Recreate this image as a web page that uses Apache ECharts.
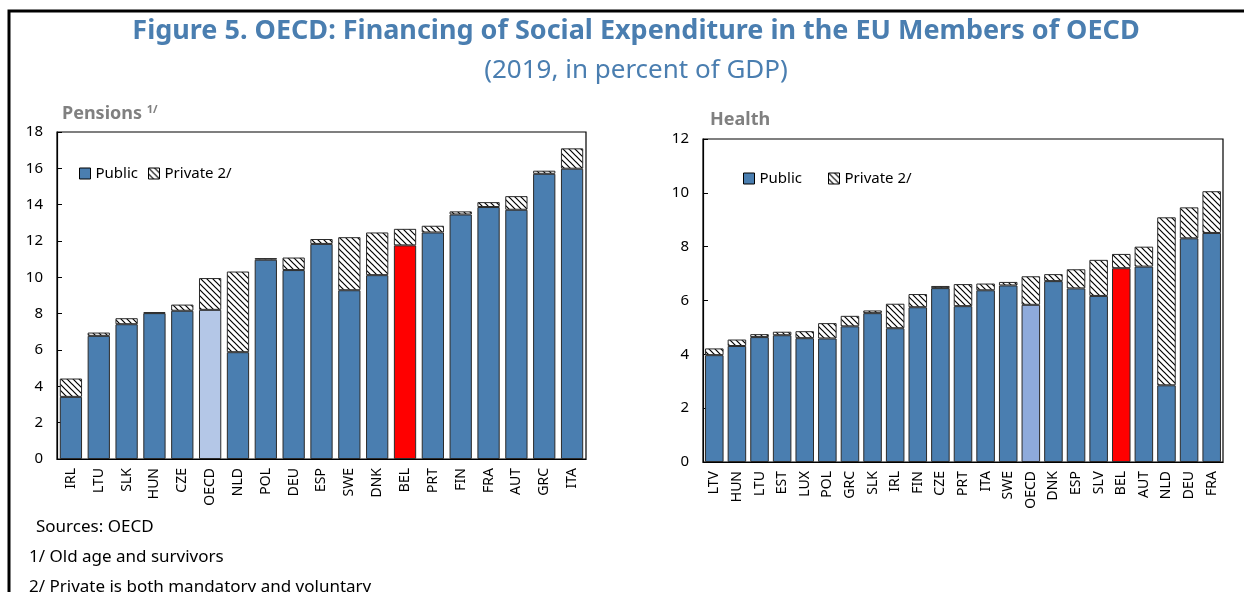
<!DOCTYPE html>
<html>
<head>
<meta charset="utf-8">
<script src="https://cdn.jsdelivr.net/npm/echarts@6/dist/echarts.min.js"></script>
<style>
  html, body { margin: 0; padding: 0; background: #fff; }
  #main { width: 1244px; height: 592px; }
</style>
</head>
<body>
<div id="main"></div>
<script>
// pensions panel
var penCountries = ['IRL','LTU','SLK','HUN','CZE','OECD','NLD','POL','DEU','ESP','SWE','DNK','BEL','PRT','FIN','FRA','AUT','GRC','ITA'];
var penPublic  = [3.42, 6.78, 7.42, 8.03, 8.16, 8.21, 5.88, 10.97, 10.40, 11.84, 9.29, 10.12, 11.76, 12.47, 13.46, 13.87, 13.72, 15.70, 15.98];
var penPrivate = [1.01, 0.18, 0.33, 0.05, 0.34, 1.75, 4.44, 0.09, 0.69, 0.27, 2.92, 2.35, 0.91, 0.37, 0.17, 0.27, 0.75, 0.17, 1.12];

// health panel
var hlthCountries = ['LTV','HUN','LTU','EST','LUX','POL','GRC','SLK','IRL','FIN','CZE','PRT','ITA','SWE','OECD','DNK','ESP','SLV','BEL','AUT','NLD','DEU','FRA'];
var hlthPublic  = [3.97, 4.31, 4.64, 4.71, 4.60, 4.59, 5.04, 5.53, 4.97, 5.75, 6.46, 5.79, 6.38, 6.56, 5.84, 6.72, 6.45, 6.17, 7.20, 7.26, 2.85, 8.31, 8.51];
var hlthPrivate = [0.25, 0.24, 0.11, 0.13, 0.26, 0.57, 0.39, 0.10, 0.91, 0.49, 0.08, 0.82, 0.25, 0.13, 1.06, 0.26, 0.71, 1.34, 0.53, 0.74, 6.24, 1.15, 1.55];

var penTicks = [0, 18, 2];
var hlthTicks = [0, 12, 2];

var blue = '#4a7eb0';
var edge = '#2b2b2b';

function hatch() {
    var c = document.createElement('canvas');
    c.width = 6; c.height = 6;
    var g = c.getContext('2d');
    g.fillStyle = '#fff';
    g.fillRect(0, 0, 6, 6);
    g.strokeStyle = '#000';
    g.lineWidth = 1.2;
    g.beginPath();
    g.moveTo(0, 0); g.lineTo(6, 6);
    g.moveTo(-3, 3); g.lineTo(3, 9);
    g.moveTo(3, -3); g.lineTo(9, 3);
    g.stroke();
    return c;
}
var hatchFill = { image: hatch(), repeat: 'repeat' };

function publicData(countries, values, oecdColor) {
    return values.map(function (v, i) {
        var c = countries[i];
        if (c === 'OECD') return { value: v, itemStyle: { color: oecdColor } };
        if (c === 'BEL') return { value: v, itemStyle: { color: '#ff0000' } };
        return v;
    });
}

function xAxisFor(idx, cats) {
    return {
        type: 'category', gridIndex: idx, data: cats,
        axisLine: { lineStyle: { color: '#000', width: 1.2 } },
        axisTick: { inside: true, length: 5, lineStyle: { color: '#000' } },
        axisLabel: { rotate: 90, color: '#000', fontSize: 14, fontFamily: 'Noto Sans', margin: 9 }
    };
}
function yAxisFor(idx, t) {
    return {
        type: 'value', gridIndex: idx, min: t[0], max: t[1], interval: t[2],
        axisLine: { show: true, lineStyle: { color: '#000', width: 1.2 } },
        axisTick: { show: true, inside: true, length: 5, lineStyle: { color: '#000' } },
        axisLabel: { color: '#000', fontSize: 15, fontFamily: 'Noto Sans', margin: 14 },
        splitLine: { show: false }
    };
}

var option = {
    animation: false,
    textStyle: { fontFamily: 'Noto Sans' },
    title: [
        { text: 'Figure 5. OECD: Financing of Social Expenditure in the EU Members of OECD', left: 631, top: 13, textAlign: 'center',
          textStyle: { color: '#4a7eb0', fontSize: 27, fontWeight: 'bold', fontFamily: 'Noto Sans' } },
        { text: '(2019, in percent of GDP)', left: 631, top: 53, textAlign: 'center',
          textStyle: { color: '#4a7eb0', fontSize: 26, fontWeight: 'normal', fontFamily: 'Noto Sans' } },
        { text: '{a|Pensions }{b|1/}', left: 57, top: 99,
          textStyle: { rich: { a: { color: '#808080', fontSize: 18, fontWeight: 'bold' }, b: { color: '#808080', fontSize: 11, fontWeight: 'bold', verticalAlign: 'top', padding: [0, 0, 8, 0] } } } },
        { text: 'Health', left: 705, top: 106,
          textStyle: { color: '#808080', fontSize: 18, fontWeight: 'bold' } },
        { text: 'Sources: OECD', left: 31, top: 514, textStyle: { color: '#000', fontSize: 17, fontWeight: 'normal' } },
        { text: '1/ Old age and survivors', left: 24, top: 544, textStyle: { color: '#000', fontSize: 17, fontWeight: 'normal' } },
        { text: '2/ Private is both mandatory and voluntary', left: 24, top: 574, textStyle: { color: '#000', fontSize: 17, fontWeight: 'normal' } }
    ],
    legend: [
        { data: ['Public', 'Private 2/'], left: 74, top: 161, itemWidth: 11, itemHeight: 11, itemGap: 10,
          icon: 'rect', textStyle: { fontSize: 15, color: '#000' },
          itemStyle: { borderColor: '#000', borderWidth: 1 } },
        { data: [{ name: 'Public' }, { name: 'Private 2/' }], left: 738, top: 166, itemWidth: 11, itemHeight: 11, itemGap: 26,
          icon: 'rect', textStyle: { fontSize: 15, color: '#000' },
          itemStyle: { borderColor: '#000', borderWidth: 1 } }
    ],
    grid: [
        { left: 57, right: 658, top: 132, bottom: 133, show: true, borderColor: '#000', borderWidth: 1.2, containLabel: false },
        { left: 703, right: 21, top: 139, bottom: 130, show: true, borderColor: '#000', borderWidth: 1.2, containLabel: false }
    ],
    xAxis: [xAxisFor(0, penCountries), xAxisFor(1, hlthCountries)],
    yAxis: [yAxisFor(0, penTicks), yAxisFor(1, hlthTicks)],
    series: [
        { name: 'Public', type: 'bar', stack: 'pen', xAxisIndex: 0, yAxisIndex: 0, barCategoryGap: '20%',
          itemStyle: { color: blue, borderColor: edge, borderWidth: 1 },
          data: publicData(penCountries, penPublic, '#b4c7e7') },
        { name: 'Private 2/', type: 'bar', stack: 'pen', xAxisIndex: 0, yAxisIndex: 0, barCategoryGap: '20%',
          itemStyle: { color: hatchFill, borderColor: edge, borderWidth: 1 },
          data: penPrivate },
        { name: 'Public', type: 'bar', stack: 'hlth', xAxisIndex: 1, yAxisIndex: 1, barCategoryGap: '18%',
          itemStyle: { color: blue, borderColor: edge, borderWidth: 1 },
          data: publicData(hlthCountries, hlthPublic, '#8eaadb') },
        { name: 'Private 2/', type: 'bar', stack: 'hlth', xAxisIndex: 1, yAxisIndex: 1, barCategoryGap: '18%',
          itemStyle: { color: hatchFill, borderColor: edge, borderWidth: 1 },
          data: hlthPrivate }
    ],
    graphic: [
        { type: 'rect', shape: { x: 9, y: 11, width: 1260, height: 620 }, style: { fill: 'none', stroke: '#000', lineWidth: 3 }, silent: true }
    ]
};

var chart = echarts.init(document.getElementById('main'));
chart.setOption(option);
</script>
</body>
</html>
